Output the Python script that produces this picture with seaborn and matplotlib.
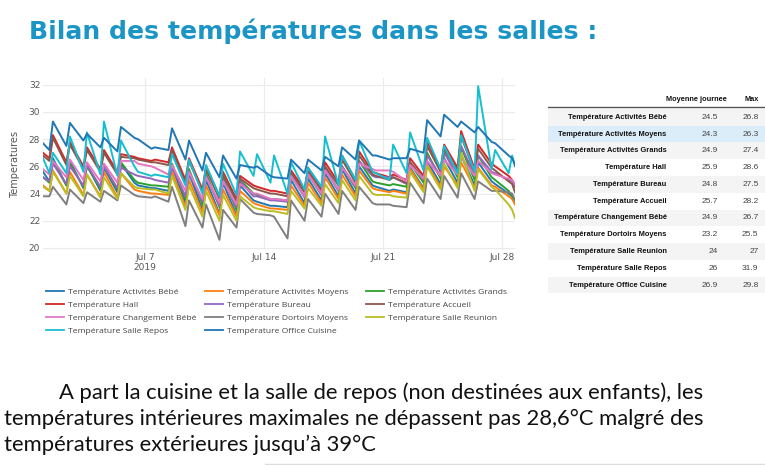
import numpy as np
import pandas as pd
import matplotlib
matplotlib.use("Agg")
import matplotlib.pyplot as plt
import seaborn as sns
from matplotlib.patches import Rectangle
from matplotlib.lines import Line2D

# ---------------- data ----------------
series_names = [
    "Température Activités Bébé", "Température Activités Moyens",
    "Température Activités Grands", "Température Hall", "Température Bureau",
    "Température Accueil", "Température Changement Bébé",
    "Température Dortoirs Moyens", "Température Salle Reunion",
    "Température Salle Repos", "Température Office Cuisine",
]
series_colors = ["#1f77b4", "#ff7f0e", "#2ca02c", "#d62728", "#9467bd",
                 "#8c564b", "#e377c2", "#7f7f7f", "#bcbd22", "#17becf", "#1f77b4"]

# sample times: Jul 1 00:00, then each day 09:00 (low) and 14:00 (high), end Jul 28 18:00
start_date = "2019-07-01"
n_days = 28
sample_hours = [0.0] + [h for d in range(n_days) for h in (24 * d + 9, 24 * d + 14)] + [24 * 27 + 18]

act_bebe = [25.6,
    24.9, 26.6, 24.6, 26.4, 24.4, 26.1, 24.2, 25.9, 24.1, 26.2, 24.8, 24.6, 24.4, 24.4,
    24.2, 26.0, 23.3, 25.5, 22.8, 25.0, 22.5, 24.8, 22.4, 24.6, 23.5, 23.4, 23.1, 23.1,
    23.0, 25.0, 23.3, 25.1, 23.5, 25.5, 23.8, 25.8, 24.0, 26.0, 24.6, 24.5, 24.2, 24.3,
    24.1, 25.9, 24.4, 26.4, 24.7, 26.6, 24.8, 26.8, 24.6, 26.3, 24.9, 24.7, 24.0, 23.8,
    23.4]
act_moyens = [24.6,
    24.2, 25.7, 24.0, 25.6, 23.9, 25.4, 23.8, 25.6, 23.7, 25.5, 24.3, 24.2, 24.0, 24.0,
    23.9, 25.6, 23.0, 25.0, 22.6, 24.6, 22.4, 24.3, 22.3, 24.2, 23.3, 23.2, 22.9, 22.9,
    22.8, 24.6, 23.1, 24.8, 23.3, 25.2, 23.6, 25.4, 23.8, 25.7, 24.4, 24.3, 24.1, 24.2,
    24.0, 25.8, 24.3, 26.1, 24.5, 26.0, 24.6, 26.3, 24.4, 25.9, 24.6, 24.5, 23.8, 23.6,
    23.2]
act_grands = [25.2,
    24.8, 26.4, 24.6, 26.2, 24.5, 26.0, 24.4, 26.0, 24.3, 26.3, 25.0, 24.8, 24.6, 24.6,
    24.5, 26.2, 23.6, 25.8, 23.2, 25.5, 23.0, 25.2, 22.8, 25.0, 24.0, 23.9, 23.6, 23.6,
    23.5, 25.3, 23.8, 25.4, 23.9, 25.8, 24.2, 26.0, 24.4, 26.4, 24.9, 24.8, 24.6, 24.7,
    24.5, 26.2, 24.8, 27.0, 25.1, 27.1, 25.2, 27.4, 25.0, 26.8, 25.2, 25.0, 24.2, 23.8,
    23.5]
hall = [27.0,
    26.6, 28.3, 26.3, 27.8, 26.0, 27.4, 25.8, 27.2, 25.6, 26.9, 26.7, 26.6, 26.4, 26.5,
    26.3, 27.4, 25.0, 26.6, 24.3, 26.0, 23.8, 25.6, 23.6, 25.3, 24.6, 24.5, 24.2, 24.2,
    24.0, 25.7, 24.3, 25.9, 24.4, 26.3, 24.8, 26.8, 25.0, 27.1, 25.6, 25.5, 25.2, 25.4,
    25.0, 26.6, 25.3, 27.8, 25.8, 27.6, 25.9, 28.6, 25.8, 27.6, 26.2, 26.0, 25.3, 25.0,
    24.5]
bureau = [25.2,
    24.9, 26.2, 24.7, 26.0, 24.6, 26.1, 24.5, 26.0, 24.4, 25.9, 25.4, 25.3, 25.1, 25.0,
    24.8, 26.0, 23.8, 25.6, 23.4, 25.3, 23.1, 25.0, 23.0, 24.9, 23.8, 23.8, 23.5, 23.5,
    23.4, 25.4, 23.7, 25.5, 23.9, 25.9, 24.2, 26.0, 24.5, 26.4, 25.3, 25.2, 25.2, 25.2,
    24.7, 26.3, 25.0, 26.8, 25.3, 27.0, 25.4, 27.5, 25.4, 26.8, 25.6, 25.5, 25.0, 24.9,
    24.6]
accueil = [26.8,
    26.4, 28.1, 26.1, 27.6, 25.8, 27.2, 25.6, 27.0, 25.4, 26.7, 26.6, 26.5, 26.3, 26.3,
    26.1, 27.2, 24.8, 26.4, 24.1, 25.8, 23.6, 25.4, 23.4, 25.1, 24.4, 24.3, 24.0, 24.0,
    23.8, 25.5, 24.1, 25.7, 24.2, 26.0, 24.6, 26.5, 24.8, 26.8, 25.4, 25.3, 25.0, 25.2,
    24.8, 26.3, 25.1, 27.5, 25.6, 27.3, 25.7, 28.2, 25.6, 27.3, 25.9, 25.7, 24.9, 24.7,
    24.1]
changement_bebe = [25.8,
    25.4, 26.4, 25.2, 26.5, 25.0, 26.3, 24.9, 26.2, 24.8, 26.4, 26.4, 26.2, 26.0, 25.9,
    25.4, 26.1, 24.2, 25.6, 23.6, 25.2, 23.3, 24.9, 23.2, 24.7, 24.0, 24.0, 23.6, 23.6,
    23.5, 25.3, 23.8, 25.4, 24.0, 25.7, 24.3, 25.9, 24.6, 26.2, 25.8, 25.7, 25.7, 25.6,
    24.9, 26.1, 25.1, 26.4, 25.3, 26.5, 25.4, 26.7, 25.3, 26.4, 25.5, 25.4, 25.1, 25.0,
    24.7]
dortoirs_moyens = [23.8,
    23.8, 24.5, 23.2, 24.3, 23.3, 24.1, 23.4, 24.2, 23.5, 24.6, 23.9, 23.8, 23.7, 23.8,
    23.4, 24.5, 21.6, 23.5, 21.5, 23.2, 20.6, 22.8, 21.5, 23.6, 22.6, 22.5, 22.4, 22.3,
    20.7, 23.5, 22.0, 23.6, 22.3, 24.0, 22.5, 24.2, 22.8, 24.5, 23.3, 23.2, 23.2, 23.1,
    23.0, 24.8, 23.3, 25.1, 23.6, 25.3, 23.7, 25.5, 23.6, 24.9, 24.2, 24.2, 24.1, 24.0,
    23.5]
salle_reunion = [24.5,
    24.2, 25.6, 24.0, 25.3, 23.8, 25.4, 23.7, 25.2, 23.6, 25.5, 24.5, 24.4, 24.3, 24.3,
    24.0, 25.3, 22.8, 24.6, 22.3, 24.2, 22.0, 23.9, 22.0, 23.8, 23.0, 22.9, 22.7, 22.7,
    22.5, 24.2, 22.9, 24.4, 23.1, 24.7, 23.3, 25.0, 23.5, 25.3, 24.0, 23.9, 23.9, 23.8,
    23.7, 25.6, 24.1, 26.0, 24.3, 26.2, 24.4, 27.0, 24.2, 25.8, 24.5, 24.3, 23.2, 22.8,
    22.2]
salle_repos = [26.6,
    25.5, 27.0, 25.5, 28.2, 25.6, 28.5, 25.4, 29.3, 25.3, 27.9, 26.0, 25.6, 25.3, 25.4,
    25.2, 26.9, 24.6, 26.5, 24.0, 26.1, 23.8, 26.2, 23.9, 27.1, 25.3, 26.9, 24.8, 26.8,
    24.0, 26.3, 24.3, 25.9, 24.5, 28.2, 24.6, 26.8, 25.0, 27.9, 25.6, 25.5, 25.0, 27.6,
    25.5, 28.5, 25.7, 28.1, 25.8, 27.5, 25.5, 28.3, 25.6, 31.9, 25.8, 27.2, 25.5, 26.8,
    26.0]
office_cuisine = [27.7,
    27.2, 29.3, 27.5, 29.2, 27.9, 28.4, 27.4, 28.1, 27.1, 28.9, 28.1, 28.0, 27.3, 27.4,
    27.2, 28.8, 26.5, 27.9, 25.7, 27.0, 25.2, 26.8, 25.1, 26.1, 25.9, 26.0, 25.3, 25.2,
    25.1, 26.5, 25.5, 26.5, 25.7, 26.7, 26.0, 27.4, 26.5, 27.9, 26.8, 26.8, 26.5, 26.6,
    26.6, 27.3, 27.0, 29.4, 28.2, 29.8, 28.9, 29.3, 28.5, 28.9, 27.8, 27.7, 26.8, 26.6,
    26.1]

series_values = [act_bebe, act_moyens, act_grands, hall, bureau, accueil,
                 changement_bebe, dortoirs_moyens, salle_reunion, salle_repos,
                 office_cuisine]

x_ticks = ["2019-07-07", "2019-07-14", "2019-07-21", "2019-07-28"]
x_tick_labels = ["Jul 7\n2019", "Jul 14", "Jul 21", "Jul 28"]
y_ticks = [20, 22, 24, 26, 28, 30, 32]

table_mean = [24.5, 24.3, 24.9, 25.9, 24.8, 25.7, 24.9, 23.2, 24, 26, 26.9]
table_max = [26.8, 26.3, 27.4, 28.6, 27.5, 28.2, 26.7, 25.5, 27, 31.9, 29.8]
table_headers = ["Moyenne journee", "Max"]

title_text = "Bilan des températures dans les salles :"
paragraph_lines = [
    "A part la cuisine et la salle de repos (non destinées aux enfants), les",
    "températures intérieures maximales ne dépassent pas 28,6°C malgré des",
    "températures extérieures jusqu’à 39°C",
]

# ---------------- build long dataframe ----------------
times = pd.Timestamp(start_date) + pd.to_timedelta(sample_hours, unit="h")
frames = []
for name, vals in zip(series_names, series_values):
    frames.append(pd.DataFrame({"date": times, "temp": vals, "serie": name}))
df = pd.concat(frames, ignore_index=True)

palette = dict(zip(series_names, series_colors))

# ---------------- figure ----------------
W, H = 765, 465
fig = plt.figure(figsize=(W / 100, H / 100), dpi=100)
fig.patch.set_facecolor("white")

def fx(px):
    return px / W

def fy(py):
    return 1 - py / H

# Title
fig.text(fx(29), fy(31), title_text, fontsize=18.1, fontweight="bold",
         color="#1b95c6", family="DejaVu Sans", va="center", ha="left")

# Line chart
ax = fig.add_axes([fx(43), fy(250), fx(515) - fx(43), fy(78) - fy(250)])
sns.lineplot(data=df, x="date", y="temp", hue="serie", hue_order=series_names,
             palette=palette, linewidth=1.4, ax=ax, estimator=None, sort=False)
ax.set_xlim(times[0], times[-1])
ax.set_ylim(19.85, 32.5)
ax.set_yticks(y_ticks)
ax.set_yticklabels([str(v) for v in y_ticks])
ax.set_xticks(pd.to_datetime(x_ticks))
ax.set_xticklabels(x_tick_labels)
ax.grid(True, color="#ebebeb", linewidth=0.8)
ax.set_axisbelow(True)
for s in ax.spines.values():
    s.set_visible(False)
ax.tick_params(length=0, labelsize=6.5, labelcolor="#555555", pad=2)
ax.set_xlabel("")
ax.set_ylabel("Temperatures", fontsize=7, color="#555555", labelpad=6)

handles, labels = ax.get_legend_handles_labels()
ax.get_legend().remove()

# Legend: three columns placed individually (row-wise order like the original)
legend_cols = [[0, 3, 6, 9], [1, 4, 7, 10], [2, 5, 8]]
legend_x = [46, 205, 366]
for col, xpx in zip(legend_cols, legend_x):
    lg = fig.legend([handles[i] for i in col], [labels[i] for i in col],
                    loc="upper left", bbox_to_anchor=(fx(xpx), fy(288)), ncol=1,
                    frameon=False, handlelength=2.1, handletextpad=0.45,
                    labelspacing=0.6, borderpad=0, borderaxespad=0,
                    prop={"family": "Open Sans", "size": 6.1})
    for t in lg.get_texts():
        t.set_color("#444444")
    for l in lg.get_lines():
        l.set_linewidth(1.3)

# Table
axt = fig.add_axes([fx(548), fy(296), fx(765) - fx(548), fy(86) - fy(296)])
axt.set_xlim(548, 765)
axt.set_ylim(296, 86)
axt.axis("off")
row0 = 117.3
pitch = 16.77
for i, (name, m, mx) in enumerate(zip(series_names, table_mean, table_max)):
    yc = row0 + i * pitch
    if i == 1:
        bg = "#dcedfa"
    elif i % 2 == 0:
        bg = "#f4f4f4"
    else:
        bg = "white"
    axt.add_patch(Rectangle((548, yc - pitch / 2), 217, pitch, facecolor=bg,
                            edgecolor="none"))
    axt.text(666.5, yc, name, ha="right", va="center", fontsize=5.45,
             fontweight="bold", family="Liberation Sans", color="#111111")
    axt.text(717.5, yc, f"{m:g}", ha="right", va="center", fontsize=6.0,
             family="Liberation Sans", color="#444444")
    axt.text(758.5, yc, f"{mx:g}", ha="right", va="center", fontsize=6.0,
             family="Liberation Sans", color="#444444")
axt.text(727, 99.5, table_headers[0], ha="right", va="center", fontsize=5.3,
         fontweight="bold", family="Liberation Sans", color="#111111")
axt.text(758.5, 99.5, table_headers[1], ha="right", va="center", fontsize=5.3,
         fontweight="bold", family="Liberation Sans", color="#111111")
axt.plot([548, 764], [107.5, 107.5], color="#555555", linewidth=1.0)

# Paragraph
para_size = 15.8
fig.text(fx(59), fy(393), paragraph_lines[0], fontsize=para_size, family="Lato",
         color="#111111", va="center", ha="left")
fig.text(fx(4), fy(419), paragraph_lines[1], fontsize=para_size, family="Lato",
         color="#111111", va="center", ha="left")
fig.text(fx(4), fy(445), paragraph_lines[2], fontsize=para_size, family="Lato",
         color="#111111", va="center", ha="left")

# faint slide separator at the bottom
fig.add_artist(Line2D([fx(265), fx(765)], [fy(463.5), fy(463.5)],
                      color="#dddddd", linewidth=1.0))

fig.savefig("out.png", dpi=100, facecolor="white")
